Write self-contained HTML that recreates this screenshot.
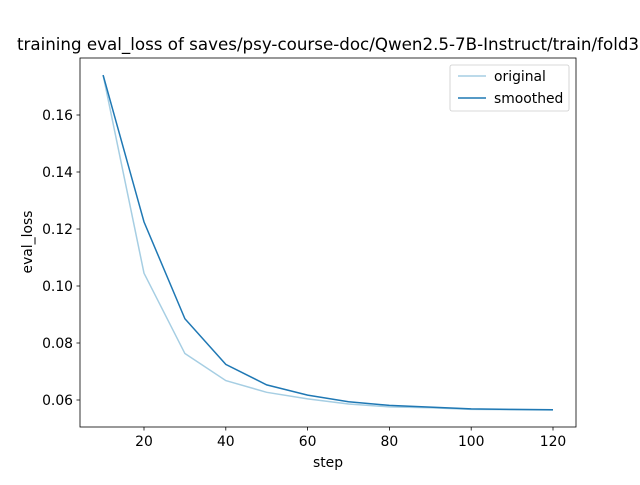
<!DOCTYPE html>
<html><head><meta charset="utf-8"><style>
body{margin:0;background:#fff;}
svg text{font-family:"DejaVu Sans","Liberation Sans",sans-serif;fill:#000;}
</style></head><body>
<svg width="640" height="480" xmlns="http://www.w3.org/2000/svg">
<rect width="640" height="480" fill="#fff"/>
<text x="328" y="50" font-size="16.7" text-anchor="middle">training eval_loss of saves/psy-course-doc/Qwen2.5-7B-Instruct/train/fold3</text>
<g id="axes"></g>
<rect x="80" y="58" width="496" height="369" fill="none" stroke="#000" stroke-width="0.8"/>
<text x="328" y="467" font-size="13.9" text-anchor="middle">step</text>
<text x="32" y="242" font-size="13.9" text-anchor="middle" transform="rotate(-90 32 242)">eval_loss</text>
<g>
<rect x="450" y="65" width="119" height="46" rx="2" fill="#fff" stroke="#ccc" stroke-width="0.8"/>
<line x1="458" y1="76" x2="486" y2="76" stroke="#a6cee3" stroke-width="1.5"/>
<text x="494" y="81" font-size="13.9">original</text>
<line x1="458" y1="98" x2="486" y2="98" stroke="#1f78b4" stroke-width="1.5"/>
<text x="494" y="103" font-size="13.9">smoothed</text>
</g>
</svg>
<script>
const steps=[10,20,30,40,50,60,70,80,90,100,110,120];
const original=[0.174,0.1045,0.0763,0.0668,0.0627,0.0604,0.0586,0.0576,0.0573,0.0567,0.0566,0.0565];
const smoothed=[0.174,0.1225,0.0885,0.0725,0.0653,0.0617,0.0594,0.0581,0.0575,0.0569,0.0567,0.0566];
const xTicks=[20,40,60,80,100,120];
const yTicks=[0.06,0.08,0.10,0.12,0.14,0.16];
const yLabels=["0.06","0.08","0.10","0.12","0.14","0.16"];
const NS="http://www.w3.org/2000/svg";
const g=document.getElementById('axes');
function xs(v){return 144+(v-20)*(553-144)/100;}
function ys(v){return 400-(v-0.06)*2850;}
function mk(t,a){const e=document.createElementNS(NS,t);for(const k in a)e.setAttribute(k,a[k]);g.appendChild(e);return e;}
xTicks.forEach(v=>{
 const l=mk('line',{x1:xs(v),x2:xs(v),y1:427,y2:430.5,stroke:'#000','stroke-width':0.8});
 
 
 const t=mk('text',{x:xs(v),y:446,'font-size':13.9,'text-anchor':'middle'});t.textContent=v;
 
 
});
yTicks.forEach((v,i)=>{
 const l=mk('line',{x1:76.5,x2:80,y1:ys(v),y2:ys(v),stroke:'#000','stroke-width':0.8});
 
 
 const t=mk('text',{x:73,y:ys(v)+5,'font-size':13.9,'text-anchor':'end'});t.textContent=yLabels[i];
 
 
});
function line(vals,color,name){
 const p=mk('polyline',{points:steps.map((s,i)=>xs(s)+','+ys(vals[i])).join(' '),fill:'none',stroke:color,'stroke-width':1.5});
 
 
}
line(original,'#a6cee3','original-line');
line(smoothed,'#1f78b4','smoothed-line');
</script>
</body></html>
